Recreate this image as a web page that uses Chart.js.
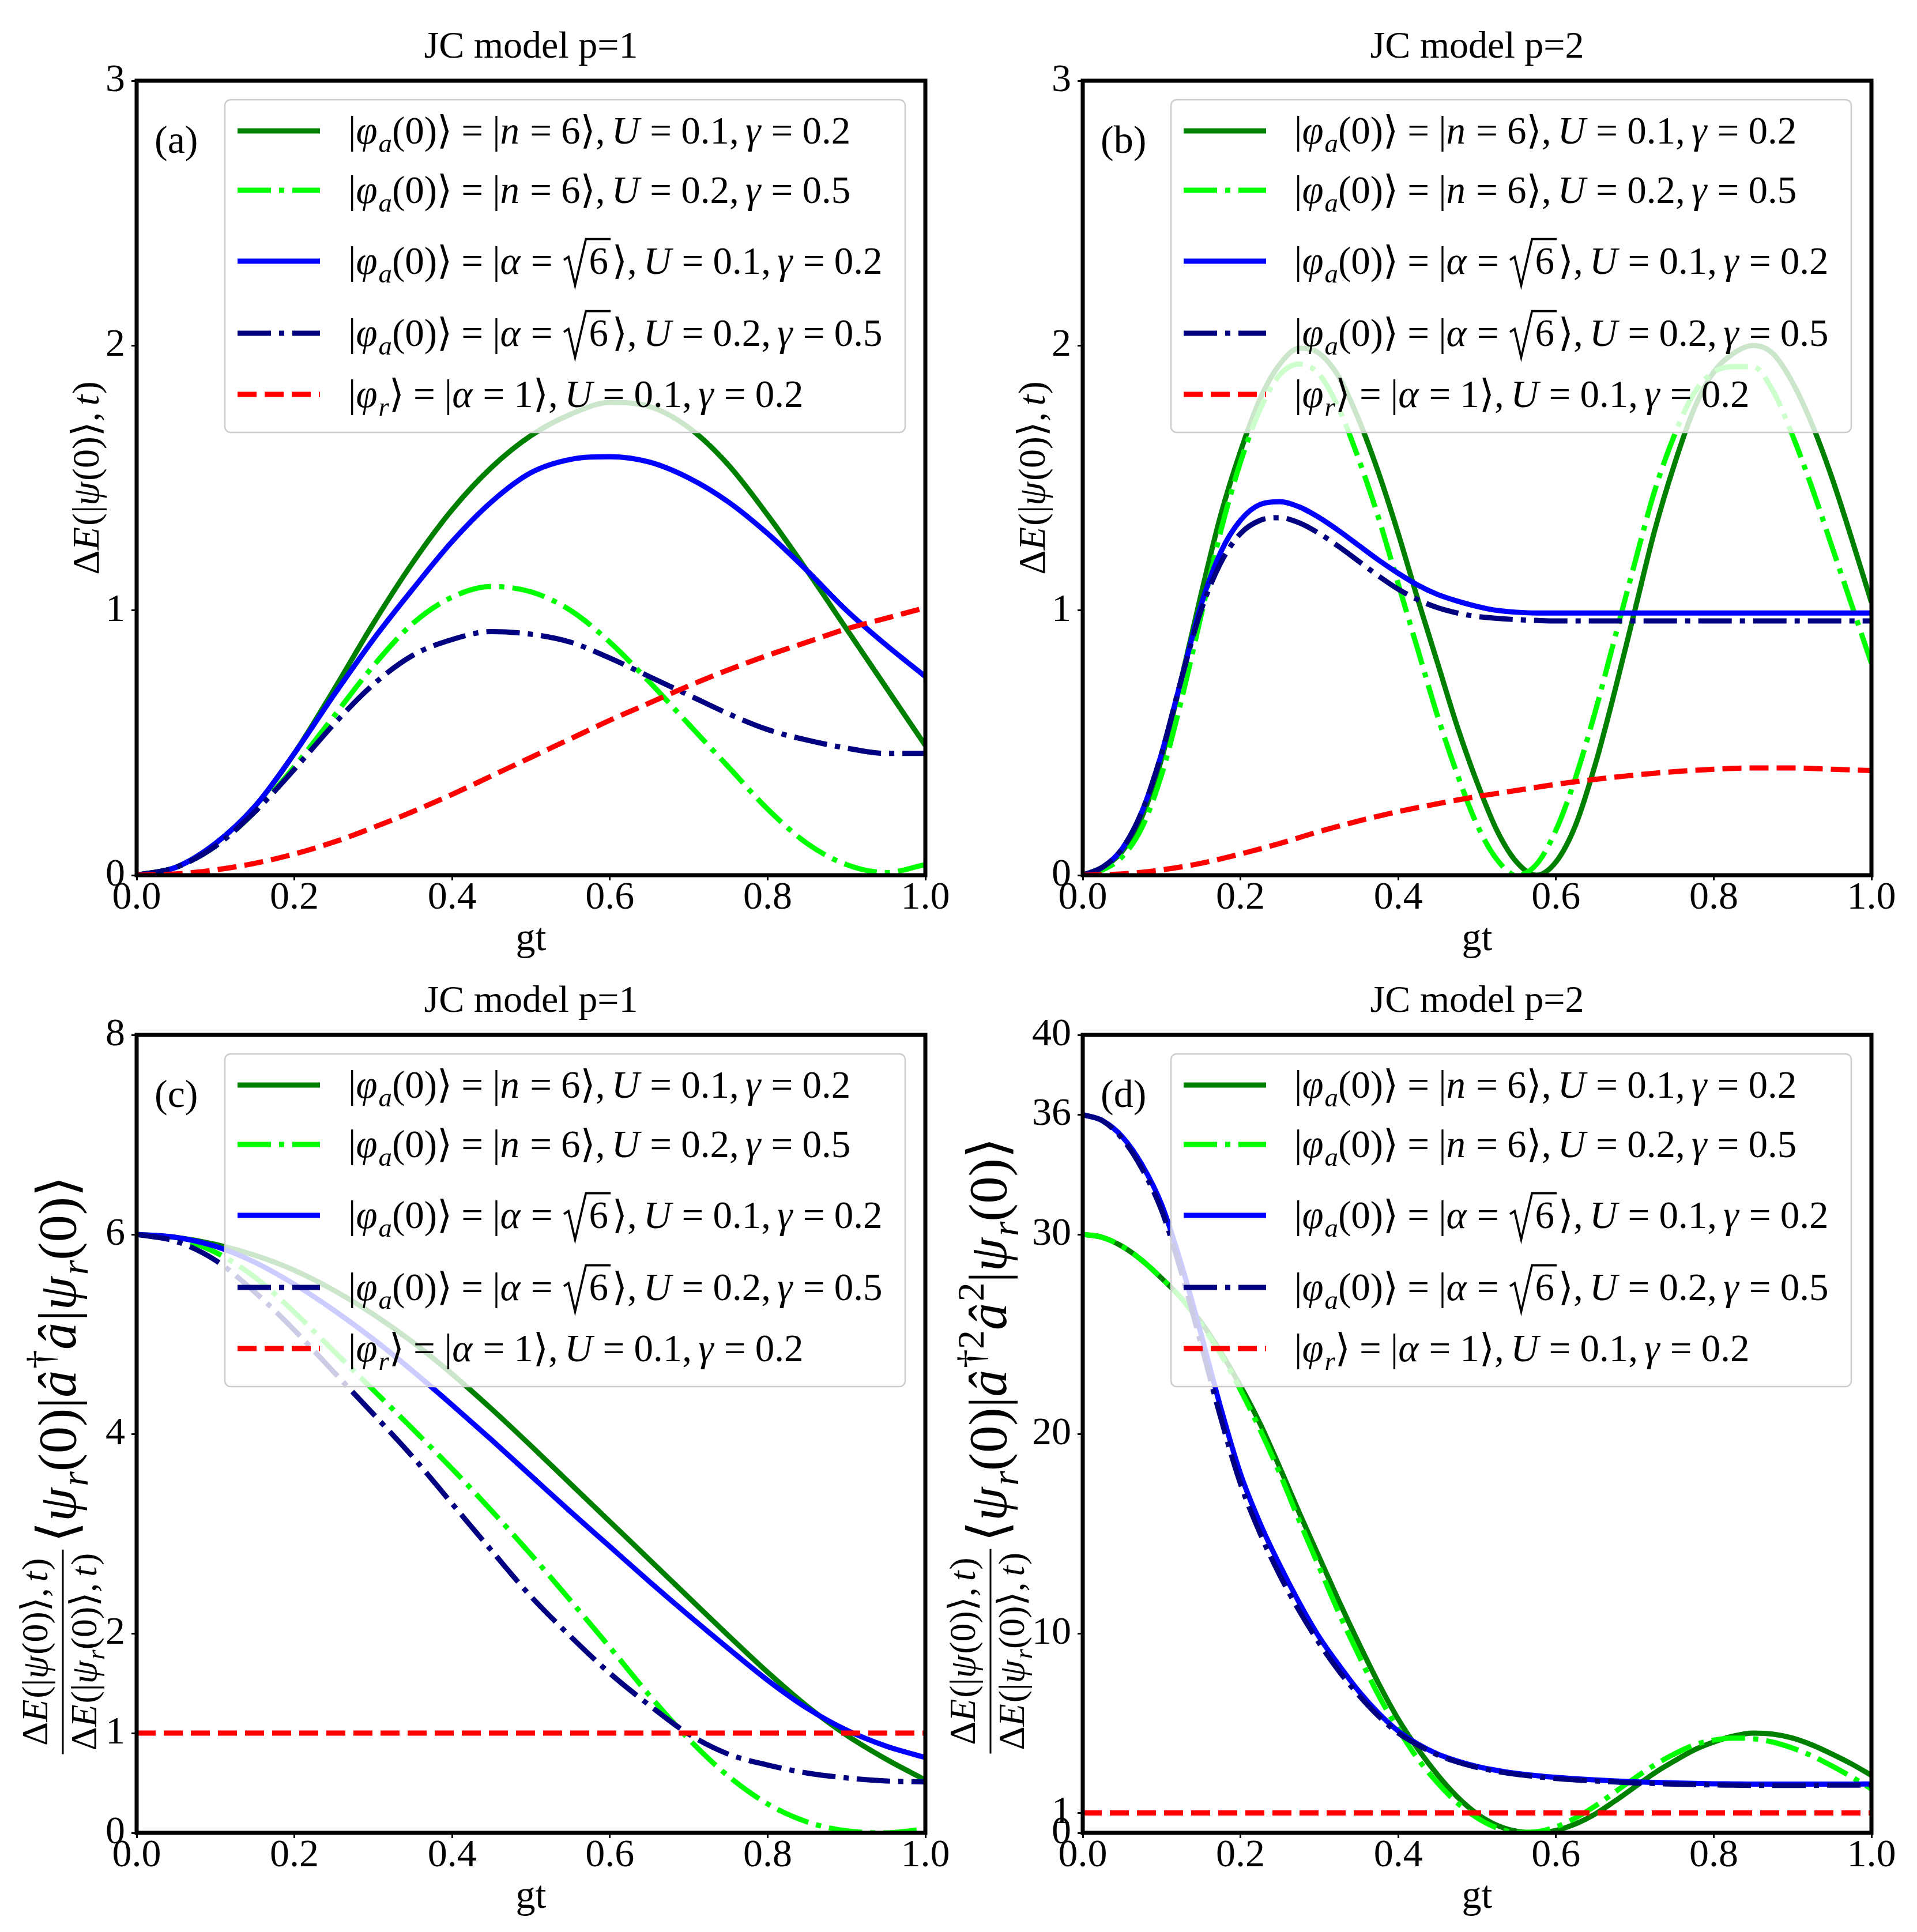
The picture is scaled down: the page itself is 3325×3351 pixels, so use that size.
<!DOCTYPE html>
<html>
<head>
<meta charset="utf-8">
<script src="https://cdn.jsdelivr.net/npm/chart.js@4.4.1/dist/chart.umd.min.js"></script>
<style>
  html, body { margin: 0; padding: 0; background: #fff; }
  #page { position: relative; width: 3325px; height: 3351px; background: #fff; overflow: hidden; }
  canvas { position: absolute; }
</style>
</head>
<body>
<div id="page">
  <canvas id="pa" width="1660" height="1700" style="left:0px;top:0px;width:1660px;height:1700px"></canvas>
  <canvas id="pb" width="1685" height="1700" style="left:1640px;top:0px;width:1685px;height:1700px"></canvas>
  <canvas id="pc" width="1660" height="1651" style="left:0px;top:1700px;width:1660px;height:1651px"></canvas>
  <canvas id="pd" width="1685" height="1651" style="left:1640px;top:1700px;width:1685px;height:1651px"></canvas>
</div>
<script>
var SERIF = '"Liberation Serif", "DejaVu Serif", serif';

// gt sample points
var gtCoarse = [0, 0.05, 0.1, 0.15, 0.2, 0.25, 0.3, 0.35, 0.4, 0.45, 0.5,
  0.55, 0.6, 0.65, 0.7, 0.75, 0.8, 0.85, 0.9, 0.95, 1];
var gtFine = [0, 0.025, 0.05, 0.075, 0.1, 0.125, 0.15, 0.175, 0.2, 0.225, 0.25,
  0.275, 0.3, 0.325, 0.35, 0.375, 0.4, 0.425, 0.45, 0.475, 0.5,
  0.525, 0.55, 0.575, 0.6, 0.625, 0.65, 0.675, 0.7, 0.725, 0.75,
  0.775, 0.8, 0.825, 0.85, 0.875, 0.9, 0.925, 0.95, 0.975, 1];

// (a) JC model p=1, Delta E
var aFockU1 = [0, 0.03, 0.12, 0.26, 0.46, 0.7, 0.95, 1.18, 1.38, 1.54, 1.66, 1.74, 1.785, 1.77, 1.69, 1.55, 1.36, 1.15, 0.93, 0.71, 0.49];
var aFockU2 = [0, 0.03, 0.11, 0.24, 0.41, 0.6, 0.79, 0.95, 1.05, 1.09, 1.07, 1.0, 0.88, 0.73, 0.57, 0.41, 0.25, 0.12, 0.04, 0.01, 0.04];
var aCohU1 = [0, 0.03, 0.12, 0.26, 0.46, 0.68, 0.89, 1.08, 1.26, 1.41, 1.52, 1.57, 1.58, 1.56, 1.5, 1.41, 1.29, 1.15, 1.0, 0.87, 0.75];
var aCohU2 = [0, 0.03, 0.11, 0.24, 0.4, 0.57, 0.72, 0.83, 0.89, 0.92, 0.91, 0.88, 0.82, 0.75, 0.68, 0.61, 0.55, 0.51, 0.48, 0.46, 0.46];
var aRef = [0, 0.005, 0.02, 0.045, 0.08, 0.125, 0.18, 0.24, 0.305, 0.375, 0.445, 0.515, 0.585, 0.65, 0.715, 0.775, 0.83, 0.88, 0.93, 0.97, 1.01];

// (b) JC model p=2, Delta E
var bFockU1 = [0, 0.03, 0.09, 0.22, 0.44, 0.74, 1.06, 1.36, 1.6, 1.8, 1.93, 1.99, 1.97, 1.88, 1.72, 1.52, 1.29, 1.04, 0.8, 0.56, 0.35,
  0.17, 0.05, 0, 0.05, 0.19, 0.42, 0.7, 1.0, 1.3, 1.55, 1.76, 1.9, 1.97, 2.0, 1.97, 1.86, 1.7, 1.5, 1.27, 1.03];
var bFockU2 = [0, 0.02, 0.07, 0.18, 0.38, 0.66, 0.98, 1.3, 1.56, 1.76, 1.89, 1.93, 1.89, 1.76, 1.57, 1.35, 1.1, 0.85, 0.6, 0.38, 0.19,
  0.06, 0, 0.04, 0.17, 0.37, 0.62, 0.9, 1.18, 1.45, 1.66, 1.82, 1.9, 1.92, 1.92, 1.83, 1.66, 1.46, 1.24, 1.02, 0.8];
var bCohU1 = [0, 0.03, 0.1, 0.24, 0.46, 0.74, 1.02, 1.22, 1.34, 1.4, 1.41, 1.39, 1.35, 1.3, 1.245, 1.19, 1.14, 1.095, 1.06, 1.035, 1.015,
  1.0, 0.993, 0.99, 0.99, 0.99, 0.99, 0.99, 0.99, 0.99, 0.99, 0.99, 0.99, 0.99, 0.99, 0.99, 0.99, 0.99, 0.99, 0.99, 0.99];
var bCohU2 = [0, 0.03, 0.1, 0.24, 0.46, 0.74, 1.0, 1.18, 1.29, 1.34, 1.35, 1.33, 1.29, 1.24, 1.185, 1.13, 1.08, 1.04, 1.01, 0.99, 0.977,
  0.97, 0.965, 0.962, 0.96, 0.96, 0.96, 0.96, 0.96, 0.96, 0.96, 0.96, 0.96, 0.96, 0.96, 0.96, 0.96, 0.96, 0.96, 0.96, 0.96];
var bRef = [0, 0.005, 0.02, 0.045, 0.08, 0.12, 0.165, 0.205, 0.24, 0.27, 0.297, 0.32, 0.343, 0.362, 0.378, 0.391, 0.4, 0.405, 0.405, 0.4, 0.395];

// (c) JC model p=1, ratio * <a+a>
var cFockU1 = [6, 5.97, 5.9, 5.79, 5.64, 5.44, 5.2, 4.92, 4.6, 4.25, 3.88, 3.5, 3.12, 2.74, 2.36, 1.98, 1.61, 1.27, 0.98, 0.74, 0.53];
var cFockU2 = [6, 5.96, 5.82, 5.57, 5.22, 4.83, 4.44, 4.05, 3.65, 3.23, 2.79, 2.33, 1.86, 1.38, 0.94, 0.57, 0.29, 0.11, 0.02, 0, 0.04];
var cCohU1 = [6, 5.97, 5.88, 5.72, 5.5, 5.24, 4.95, 4.63, 4.29, 3.94, 3.58, 3.22, 2.87, 2.52, 2.18, 1.85, 1.53, 1.25, 1.03, 0.87, 0.755];
var cCohU2 = [6, 5.93, 5.74, 5.42, 5.04, 4.62, 4.2, 3.77, 3.3, 2.83, 2.37, 1.97, 1.6, 1.28, 0.99, 0.79, 0.68, 0.6, 0.55, 0.52, 0.51];
var cRef = [1, 1, 1, 1, 1, 1, 1, 1, 1, 1, 1, 1, 1, 1, 1, 1, 1, 1, 1, 1, 1];

// (d) JC model p=2, ratio * <a+^2 a^2>
var dFockU1 = [30, 29.85, 29.4, 28.7, 27.8, 26.8, 25.6, 24.1, 22.4, 20.5, 18.3, 16.0, 13.8, 11.6, 9.5, 7.5, 5.7, 4.2, 2.9, 1.8, 0.95,
  0.38, 0.08, 0, 0.12, 0.45, 0.95, 1.6, 2.3, 3.0, 3.6, 4.15, 4.55, 4.85, 5.0, 4.95, 4.75, 4.4, 3.95, 3.45, 2.88];
var dFockU2 = [30, 29.85, 29.4, 28.7, 27.8, 26.8, 25.5, 24.0, 22.2, 20.2, 18.0, 15.6, 13.3, 11.0, 8.9, 6.9, 5.2, 3.7, 2.5, 1.5, 0.75,
  0.25, 0.02, 0.05, 0.3, 0.75, 1.35, 2.05, 2.75, 3.4, 3.95, 4.4, 4.65, 4.75, 4.72, 4.55, 4.25, 3.85, 3.35, 2.8, 2.2];
var dCohU1 = [36, 35.7, 34.9, 33.5, 31.5, 28.5, 25.0, 21.3, 18.0, 15.5, 13.4, 11.5, 9.8, 8.4, 7.1, 6.0, 5.1, 4.45, 3.95, 3.6, 3.33,
  3.13, 2.98, 2.87, 2.78, 2.71, 2.65, 2.6, 2.56, 2.53, 2.5, 2.48, 2.46, 2.45, 2.44, 2.44, 2.44, 2.44, 2.44, 2.44, 2.45];
var dCohU2 = [36, 35.7, 34.8, 33.3, 31.2, 28.1, 24.5, 20.8, 17.5, 15.0, 12.9, 11.1, 9.5, 8.1, 6.9, 5.85, 5.0, 4.4, 3.9, 3.55, 3.28,
  3.08, 2.93, 2.82, 2.72, 2.65, 2.6, 2.55, 2.5, 2.47, 2.44, 2.42, 2.4, 2.39, 2.38, 2.38, 2.38, 2.38, 2.39, 2.39, 2.4];
var dRef = [1, 1, 1, 1, 1, 1, 1, 1, 1, 1, 1, 1, 1, 1, 1, 1, 1, 1, 1, 1, 1];

// axis ticks
var xTicks = [0, 0.2, 0.4, 0.6, 0.8, 1.0];
var yTicksAB = [0, 1, 2, 3];
var yTicksC = [0, 1, 2, 4, 6, 8];
var yTicksD = [0, 1, 10, 20, 30, 36, 40];

// legend labels ({..} italic, _ subscript, ^ superscript, √ root)
var legendLabels = [
  "|{φ}_a(0)⟩=|{n}=6⟩,{U}=0.1,{γ}=0.2",
  "|{φ}_a(0)⟩=|{n}=6⟩,{U}=0.2,{γ}=0.5",
  "|{φ}_a(0)⟩=|{α}=√6⟩,{U}=0.1,{γ}=0.2",
  "|{φ}_a(0)⟩=|{α}=√6⟩,{U}=0.2,{γ}=0.5",
  "|{φ}_r⟩=|{α}=1⟩,{U}=0.1,{γ}=0.2"
];

var lineStyles = [
  { color: "#008000", dash: [] },
  { color: "#00ff00", dash: [58, 14, 9, 14] },
  { color: "#0000ff", dash: [] },
  { color: "#000080", dash: [58, 14, 9, 14] },
  { color: "#ff0000", dash: [33, 14] }
];

// ---- small math text renderer ----
function parseMath(s) {
  var out = [];
  var i = 0;
  while (i < s.length) {
    var c = s[i];
    if (c === "{") {
      var j = s.indexOf("}", i);
      out.push({ t: s.slice(i + 1, j), it: true });
      i = j + 1;
    } else if (c === "_" || c === "^") {
      var txt;
      if (s[i + 1] === "{") {
        var k = s.indexOf("}", i);
        txt = s.slice(i + 2, k);
        i = k + 1;
      } else {
        txt = s[i + 1];
        i += 2;
      }
      out.push({ t: txt, it: c === "_", sub: c === "_", sup: c === "^" });
    } else if (c === "√") {
      out.push({ t: s[i + 1], sqrt: true });
      i += 2;
    } else if (c === "=") {
      out.push({ gap: 0.24 }, { t: "=" }, { gap: 0.24 });
      i++;
    } else if (c === ",") {
      out.push({ t: "," }, { gap: 0.17 });
      i++;
    } else if (c === " ") {
      i++;
    } else {
      out.push({ t: c });
      i++;
    }
  }
  return out;
}

function drawMath(ctx, toks, x, y, size, dry) {
  var cx = x;
  ctx.textBaseline = "alphabetic";
  ctx.textAlign = "left";
  ctx.fillStyle = "#000";
  for (var n = 0; n < toks.length; n++) {
    var k = toks[n];
    if (k.gap) { cx += k.gap * size; continue; }
    var s = size, dy = 0;
    if (k.sub) { s = size * 0.7; dy = 0.22 * size; }
    if (k.sup) { s = size * 0.7; dy = -0.42 * size; }
    ctx.font = (k.it ? "italic " : "") + s + "px " + SERIF;
    var w = ctx.measureText(k.t).width;
    if (k.sqrt) {
      if (!dry) {
        ctx.save();
        ctx.lineWidth = 0.055 * size;
        ctx.strokeStyle = "#000";
        ctx.beginPath();
        ctx.moveTo(cx + 0.05 * size, y - 0.36 * size);
        ctx.lineTo(cx + 0.17 * size, y - 0.44 * size);
        ctx.lineTo(cx + 0.34 * size, y + 0.3 * size);
        ctx.lineTo(cx + 0.62 * size, y - 0.9 * size);
        ctx.lineTo(cx + 0.76 * size + w, y - 0.9 * size);
        ctx.stroke();
        ctx.restore();
        ctx.fillText(k.t, cx + 0.7 * size, y);
      }
      cx += 0.8 * size + w;
      continue;
    }
    if (!dry) ctx.fillText(k.t, cx, y + dy);
    cx += w + (k.it && !k.sub ? 0.03 * size : 0);
  }
  return cx - x;
}

// ---- decorations plugin: frame, legend, title, labels ----
var deco = {
  id: "deco",
  afterDatasetsDraw: function (chart) {
    var ctx = chart.ctx, a = chart.chartArea;
    ctx.save();
    ctx.lineWidth = 7;
    ctx.strokeStyle = "#000";
    ctx.strokeRect(a.left, a.top, a.right - a.left, a.bottom - a.top);
    ctx.restore();
  },
  afterDraw: function (chart, args, opts) {
    var ctx = chart.ctx, a = chart.chartArea;
    ctx.save();
    // title
    ctx.font = "66px " + SERIF;
    ctx.fillStyle = "#000";
    ctx.textAlign = "center";
    ctx.textBaseline = "alphabetic";
    ctx.fillText(opts.title, (a.left + a.right) / 2, a.top - 40);
    // panel tag
    ctx.textAlign = "left";
    ctx.font = "68px " + SERIF;
    ctx.fillText(opts.tag, a.left + 31, a.top + 125);
    // legend
    var lx = a.left + 153, ly = a.top + 33;
    ctx.beginPath();
    ctx.roundRect(lx, ly, 1180, 577, 10);
    ctx.fillStyle = "rgba(255,255,255,0.8)";
    ctx.fill();
    ctx.lineWidth = 2.5;
    ctx.strokeStyle = "#cccccc";
    ctx.stroke();
    var rowY = [54, 157, 280, 405, 511];
    for (var k = 0; k < legendLabels.length; k++) {
      var y = ly + rowY[k];
      ctx.beginPath();
      ctx.setLineDash(lineStyles[k].dash);
      ctx.strokeStyle = lineStyles[k].color;
      ctx.lineWidth = 9;
      ctx.moveTo(lx + 22, y);
      ctx.lineTo(lx + 165, y);
      ctx.stroke();
      ctx.setLineDash([]);
      drawMath(ctx, parseMath(legendLabels[k]), lx + 214, y + 22, 67);
    }
    // y axis label
    var yl = opts.ylabel;
    ctx.translate(yl.x, yl.y);
    ctx.rotate(-Math.PI / 2);
    if (yl.big) {
      var num = parseMath(yl.num), den = parseMath(yl.den), big = parseMath(yl.big);
      var wn = drawMath(ctx, num, 0, 0, 64, true);
      var wd = drawMath(ctx, den, 0, 0, 64, true);
      var wb = drawMath(ctx, big, 0, 0, 94, true);
      var fw = Math.max(wn, wd) + 12;
      var u = -(fw + 12 + wb) / 2;
      ctx.fillStyle = "#000";
      ctx.fillRect(u, -1.5, fw, 3);
      drawMath(ctx, num, u + (fw - wn) / 2, -27, 64);
      drawMath(ctx, den, u + (fw - wd) / 2, 58, 64);
      drawMath(ctx, big, u + fw + 12, yl.bigOff, 94);
    } else {
      var toks = parseMath(yl.text);
      var w = drawMath(ctx, toks, 0, 0, 66, true);
      drawMath(ctx, toks, -w / 2, 0, 66);
    }
    ctx.restore();
  }
};

function makePanel(id, box, series, gt, yTicks, yMax, title, tag, ylabel) {
  var datasets = series.map(function (vals, k) {
    var xs = gt[k];
    return {
      label: legendLabels[k],
      data: vals.map(function (v, i) { return { x: xs[i], y: v }; }),
      borderColor: lineStyles[k].color,
      borderDash: lineStyles[k].dash,
      borderWidth: 9,
      pointRadius: 0,
      fill: false,
      cubicInterpolationMode: "monotone",
      clip: 0,
      order: 5 - k
    };
  });
  new Chart(document.getElementById(id), {
    type: "line",
    data: { datasets: datasets },
    options: {
      responsive: false,
      animation: false,
      devicePixelRatio: 1,
      layout: { padding: { left: 0, right: box.padR, top: box.padT, bottom: 0 } },
      plugins: {
        legend: { display: false },
        tooltip: { enabled: false },
        deco: { title: title, tag: tag, ylabel: ylabel }
      },
      scales: {
        x: {
          type: "linear",
          min: 0,
          max: 1,
          afterBuildTicks: function (s) { s.ticks = xTicks.map(function (v) { return { value: v }; }); },
          afterFit: function (s) { s.height = box.xH; },
          ticks: {
            autoSkip: false,
            maxRotation: 0,
            padding: -10,
            color: "#000",
            font: { family: SERIF, size: 68 },
            callback: function (v) { return Number(v).toFixed(1); }
          },
          grid: { drawOnChartArea: false, drawTicks: true, tickLength: 9, tickWidth: 3, tickColor: "#000" },
          border: { display: false },
          title: {
            display: true,
            text: "gt",
            color: "#000",
            font: { family: SERIF, size: 68 },
            padding: { top: 0, bottom: box.gtPad }
          }
        },
        y: {
          type: "linear",
          min: 0,
          max: yMax,
          afterBuildTicks: function (s) { s.ticks = yTicks.map(function (v) { return { value: v }; }); },
          afterFit: function (s) { s.width = box.yW; },
          ticks: {
            autoSkip: false,
            padding: 11,
            color: "#000",
            font: { family: SERIF, size: 68 },
            callback: function (v) { return String(v); }
          },
          grid: { drawOnChartArea: false, drawTicks: true, tickLength: 9, tickWidth: 3, tickColor: "#000" },
          border: { display: false }
        }
      }
    },
    plugins: [deco]
  });
}

var gt5 = [gtCoarse, gtCoarse, gtCoarse, gtCoarse, gtCoarse];
var gtB = [gtFine, gtFine, gtFine, gtFine, gtCoarse];
var gtD = [gtFine, gtFine, gtFine, gtFine, gtCoarse];

makePanel("pa", { yW: 237, padR: 55, padT: 140, xH: 182, gtPad: 29 },
  [aFockU1, aFockU2, aCohU1, aCohU2, aRef], gt5, yTicksAB, 3,
  "JC model p=1", "(a)", { x: 171, y: 829, text: "Δ{E}(|{ψ}(0)⟩,{t})" });

makePanel("pb", { yW: 238, padR: 79, padT: 140, xH: 182, gtPad: 29 },
  [bFockU1, bFockU2, bCohU1, bCohU2, bRef], gtB, yTicksAB, 3,
  "JC model p=2", "(b)", { x: 172, y: 829, text: "Δ{E}(|{ψ}(0)⟩,{t})" });

makePanel("pc", { yW: 237, padR: 55, padT: 95, xH: 172, gtPad: 19 },
  [cFockU1, cFockU2, cCohU1, cCohU2, cRef], gt5, yTicksC, 8,
  "JC model p=1", "(c)", {
    x: 109, y: 841, bigOff: 22,
    num: "Δ{E}(|{ψ}(0)⟩,{t})",
    den: "Δ{E}(|{ψ}_r(0)⟩,{t})",
    big: "⟨{ψ}_r(0)|{â}^†{â}|{ψ}_r(0)⟩"
  });

makePanel("pd", { yW: 238, padR: 79, padT: 95, xH: 172, gtPad: 19 },
  [dFockU1, dFockU2, dCohU1, dCohU2, dRef], gtD, yTicksD, 40,
  "JC model p=2", "(d)", {
    x: 78, y: 807, bigOff: 27,
    num: "Δ{E}(|{ψ}(0)⟩,{t})",
    den: "Δ{E}(|{ψ}_r(0)⟩,{t})",
    big: "⟨{ψ}_r(0)|{â}^{†2}{â}^2|{ψ}_r(0)⟩"
  });
</script>
</body>
</html>
